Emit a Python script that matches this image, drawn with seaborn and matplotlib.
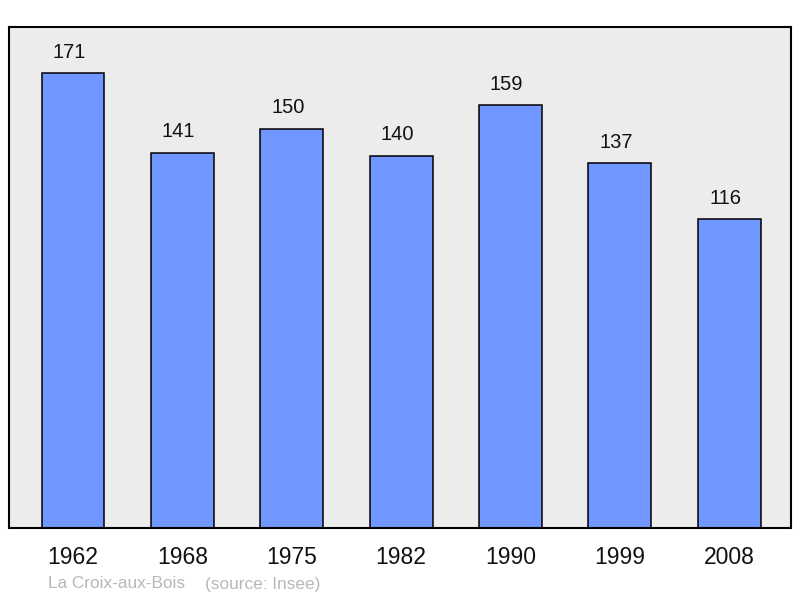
import matplotlib
matplotlib.use("Agg")
import matplotlib.pyplot as plt
import pandas as pd
import seaborn as sns

years = ["1962", "1968", "1975", "1982", "1990", "1999", "2008"]
population = [171, 141, 150, 140, 159, 137, 116]
commune = "La Croix-aux-Bois"
source = "(source: Insee)"

df = pd.DataFrame({"year": years, "pop": population})

sns.set_style("white")
plt.rcParams["font.family"] = ["Liberation Sans", "DejaVu Sans"]

fig = plt.figure(figsize=(8, 5.98), dpi=100)
ax = fig.add_axes([9 / 800, 70 / 598, 782 / 800, 501 / 598])
ax.set_facecolor("#ececec")

sns.barplot(data=df, x="year", y="pop", color="#7097ff", saturation=1,
            width=0.575, edgecolor="black", linewidth=1.1, ax=ax)

# value labels above the bars (sit a little left of centre in the original)
for i, v in enumerate(population):
    ax.text(i - 0.035, v + 5.8, str(v), ha="center", va="baseline", fontsize=14.5, color="#111111")

ax.set_xlim(-0.585, 6.565)
ax.set_ylim(0, 188.3)
ax.set_yticks([])
ax.set_xlabel("")
ax.set_ylabel("")
ax.tick_params(axis="x", length=0, pad=13, labelsize=16.5, labelcolor="#111111")
for s in ax.spines.values():
    s.set_linewidth(1.5)
    s.set_color("black")

fig.text(48 / 800, 1 - 584 / 598, commune, fontsize=12.4, color="#b8b8b8", va="center")
fig.text(205 / 800, 1 - 584 / 598, source, fontsize=12.4, color="#b8b8b8", va="center")

fig.savefig("out.png", dpi=100)
